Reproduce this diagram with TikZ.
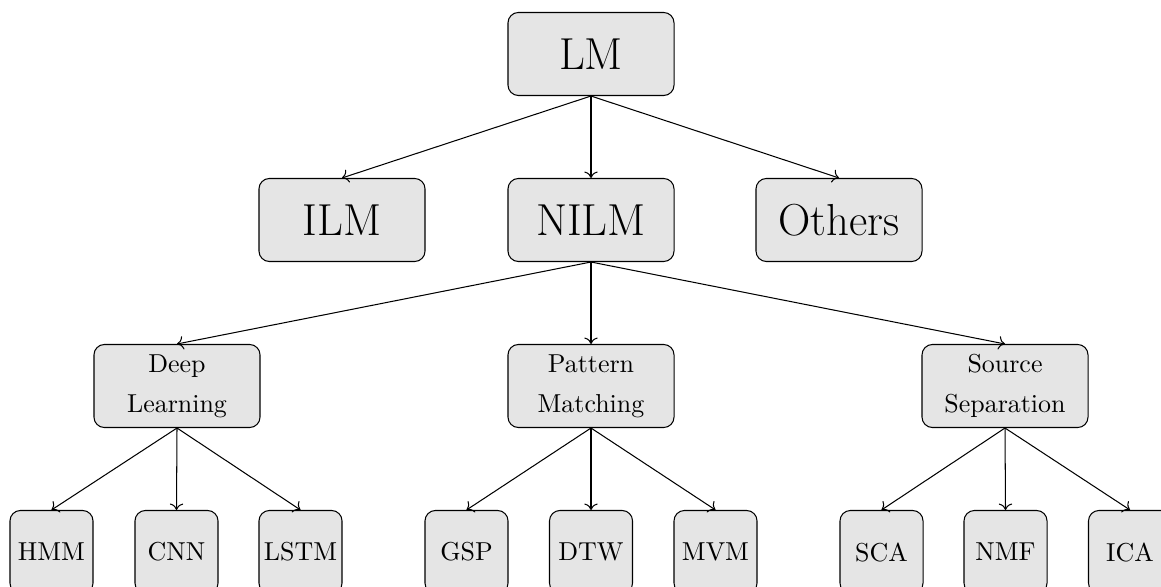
\documentclass[tikz,border=0pt]{standalone}
\usetikzlibrary{arrows.meta}
\begin{document}
\begin{tikzpicture}[x=0.3855pt,y=-0.3855pt,
  box/.style={draw,fill=gray!20,rounded corners=4pt,inner sep=0pt,
    minimum width=64pt,minimum height=32pt,align=center},
  topbox/.style={box,font=\LARGE},
  midbox/.style={box,font=\normalsize},
  leafbox/.style={box,minimum width=32pt,font=\normalsize},
  link/.style={->}]
\useasboundingbox (0,0) rectangle (1161,587);
\clip (0,0) rectangle (1161,587);
% root
\node[topbox] (lm) at (591,54) {LM};
% second level
\node[topbox] (ilm) at (342,220) {ILM};
\node[topbox] (nilm) at (591,220) {NILM};
\node[topbox] (oth) at (839,220) {Others};
% third level
\node[midbox] (dl) at (177,386) {Deep\\[3.4pt]Learning};
\node[midbox] (pm) at (591,386) {Pattern\\[3.4pt]Matching};
\node[midbox] (ss) at (1005,386) {Source\\[3.4pt]Separation};
% leaves
\node[leafbox] (hmm) at (51.5,552) {HMM};
\node[leafbox] (cnn) at (176.5,552) {CNN};
\node[leafbox] (lstm) at (300.5,552) {LSTM};
\node[leafbox] (gsp) at (466.5,552) {GSP};
\node[leafbox] (dtw) at (591,552) {DTW};
\node[leafbox] (mvm) at (715.5,552) {MVM};
\node[leafbox] (sca) at (881.5,552) {SCA};
\node[leafbox] (nmf) at (1005.5,552) {NMF};
\node[leafbox] (ica) at (1130,552) {ICA};
% connectors
\foreach \c in {ilm,nilm,oth} \draw[link] (lm.south) -- (\c.north);
\foreach \c in {dl,pm,ss} \draw[link] (nilm.south) -- (\c.north);
\foreach \c in {hmm,cnn,lstm} \draw[link] (dl.south) -- (\c.north);
\foreach \c in {gsp,dtw,mvm} \draw[link] (pm.south) -- (\c.north);
\foreach \c in {sca,nmf,ica} \draw[link] (ss.south) -- (\c.north);
\end{tikzpicture}
\end{document}
